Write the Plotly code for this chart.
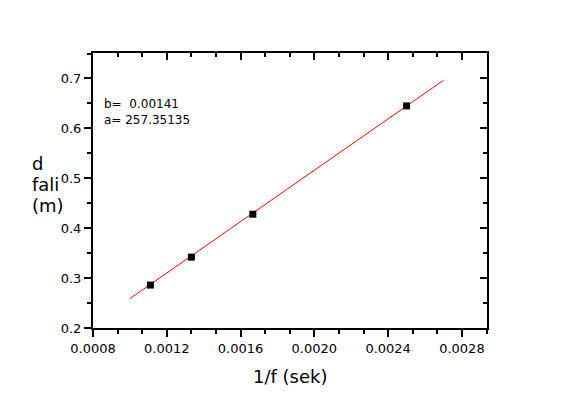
import plotly.graph_objects as go

# data
x_vals = [1/900, 1/750, 1/600, 1/400]
d_vals = [0.286, 0.342, 0.428, 0.645]
fit_a = 257.35135
fit_b = 0.00141
fit_x = [0.001, 0.0027]
fit_y = [fit_a * v + fit_b for v in fit_x]
x_range = [0.0008, 0.002936]
y_range = [0.2, 0.751]

FONT = "DejaVu Sans"
OFF = 8  # page body margin offset
W, H = 562 - OFF, 395 - OFF
L, T = 93 - OFF, 53 - OFF
R = W - (487 - OFF)
B = H - (328 - OFF)
pw = W - L - R
ph = H - T - B

def px2paper_x(px):
    return (px - OFF - L) / pw

def px2paper_y(py):
    return (H - B - (py - OFF)) / ph

fig = go.Figure()
fig.add_trace(go.Scatter(x=fit_x, y=fit_y, mode="lines",
                         line=dict(color="#ff0000", width=1), hoverinfo="skip",
                         showlegend=False))
fig.add_trace(go.Scatter(x=x_vals, y=d_vals, mode="markers",
                         marker=dict(symbol="square", size=7, color="black",
                                     line=dict(width=0)),
                         showlegend=False))
# invisible trace for mirrored top/right axes
fig.add_trace(go.Scatter(x=[None], y=[None], xaxis="x2", yaxis="y2",
                         mode="markers", showlegend=False, hoverinfo="skip"))

axis_common = dict(showgrid=False, zeroline=False, showline=True,
                   linecolor="black", linewidth=2, tickcolor="black",
                   tickwidth=2, ticklen=7)

fig.update_layout(
    width=W, height=H,
    margin=dict(l=L, r=R, t=T, b=B),
    paper_bgcolor="white", plot_bgcolor="white",
    font=dict(family=FONT, color="black", size=13),
    xaxis=dict(range=x_range, tickmode="linear", tick0=0.0008, dtick=0.0004,
               tickformat=".4f", ticks="outside",
               minor=dict(tick0=0.0008, dtick=0.0004/3, ticks="outside",
                          ticklen=4, tickwidth=2, tickcolor="black"),
               tickfont=dict(family=FONT, size=13),
               **axis_common),
    yaxis=dict(range=y_range, tickmode="linear", tick0=0.2, dtick=0.1,
               tickformat=".1f", ticks="outside",
               minor=dict(tick0=0.2, dtick=0.05, ticks="outside",
                          ticklen=4, tickwidth=2, tickcolor="black"),
               tickfont=dict(family=FONT, size=13),
               **axis_common),
    xaxis2=dict(range=x_range, overlaying="x", side="top", anchor="y2",
                tickmode="linear", tick0=0.0008, dtick=0.0004,
                ticks="inside", showticklabels=False,
                minor=dict(tick0=0.0008, dtick=0.0004/3, ticks="inside",
                           ticklen=4, tickwidth=2, tickcolor="black"),
                **axis_common),
    yaxis2=dict(range=y_range, overlaying="y", side="right", anchor="x2",
                tickmode="linear", tick0=0.2, dtick=0.1,
                ticks="inside", showticklabels=False,
                minor=dict(tick0=0.2, dtick=0.05, ticks="inside",
                           ticklen=4, tickwidth=2, tickcolor="black"),
                **axis_common),
)

annos = [
    dict(text="b=\u00a0\u00a00.00141<br>a= 257.35135", x=px2paper_x(102),
         y=px2paper_y(95), xanchor="left", yanchor="top", align="left",
         font=dict(family=FONT, size=12)),
    dict(text="1/f (sek)", x=px2paper_x(290), y=px2paper_y(364),
         xanchor="center", yanchor="top", font=dict(family=FONT, size=18)),
    dict(text="d", x=px2paper_x(30), y=px2paper_y(151), xanchor="left",
         yanchor="top", font=dict(family=FONT, size=18)),
    dict(text="fali", x=px2paper_x(30), y=px2paper_y(172), xanchor="left",
         yanchor="top", font=dict(family=FONT, size=18)),
    dict(text="(m)", x=px2paper_x(30), y=px2paper_y(193), xanchor="left",
         yanchor="top", font=dict(family=FONT, size=18)),
]
for a in annos:
    fig.add_annotation(xref="paper", yref="paper", showarrow=False, **a)

fig.write_html("out.html")
